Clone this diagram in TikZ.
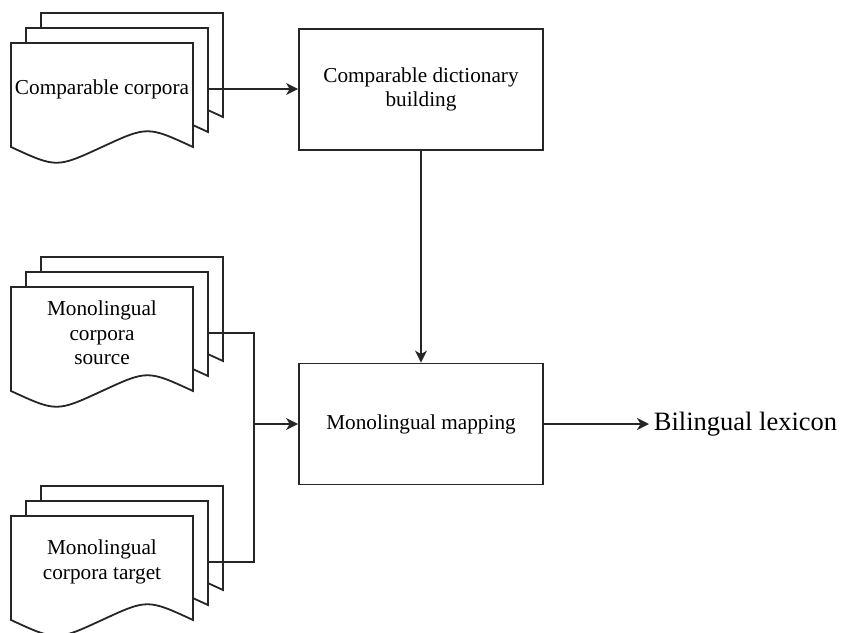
\documentclass[tikz,border=0pt]{standalone}
\usepackage{fontspec}
\setmainfont{Liberation Serif}
\usetikzlibrary{arrows.meta}

% one sheet of a document stack: top-left corner x, y
\newcommand{\docsheet}[2]{%
  \filldraw[docsheet] (#1,#2) -- (#1+182,#2) -- (#1+182,#2+104)
    .. controls (#1+136.5,#2+83) .. (#1+91,#2+104)
    .. controls (#1+45.5,#2+125) .. (#1,#2+104) -- cycle;}

% stack of three sheets: name, x, y of the front sheet, text
\newcommand{\docstack}[4]{%
  \docsheet{#2+30}{#3-30}
  \docsheet{#2+15}{#3-15}
  \docsheet{#2}{#3}
  \node[doctext] (#1) at (#2+91,#3+46) {#4};
  \coordinate (#1-out) at (#2+197,#3+46);}

\begin{document}
\begin{tikzpicture}[x=1pt, y=-1pt, line width=1.8pt,
    docsheet/.style={draw=black!85, fill=white},
    doctext/.style={align=center, font=\fontsize{21.25}{24.5}\selectfont},
    procbox/.style={draw=black!85, minimum width=244pt, minimum height=121pt,
      align=center, font=\fontsize{21.25}{24.5}\selectfont},
    link/.style={draw=black!85},
    arr/.style={link, -{Stealth[length=12pt, width=12pt, inset=3.5pt]}}]

    \useasboundingbox (0, 0) rectangle (845, 632);

    % corpora
    \docstack{comp}{11}{43}{Comparable corpora}
    \docstack{src}{11}{287}{Monolingual\\corpora\\source}
    \docstack{tgt}{11}{516}{Monolingual\\corpora target}

    % processing steps
    \node[procbox] (dict) at (421, 89.5) {Comparable dictionary\\[-0.5pt]building};
    \node[procbox] (map) at (421, 424) {Monolingual mapping};
    \node[anchor=west, inner sep=4pt, font=\fontsize{26.5}{30}\selectfont]
        (lex) at (649, 424) {Bilingual lexicon};

    \coordinate (bus) at (254, 424);

    \draw[arr] (comp-out) -- (comp-out -| dict.west);
    \draw[arr] (dict) -- (map);
    \draw[link] (src-out) -| (bus);
    \draw[link] (tgt-out) -| (bus);
    \draw[arr] (bus) -- (map);
    \draw[arr] (map) -- (lex);

\end{tikzpicture}
\end{document}
